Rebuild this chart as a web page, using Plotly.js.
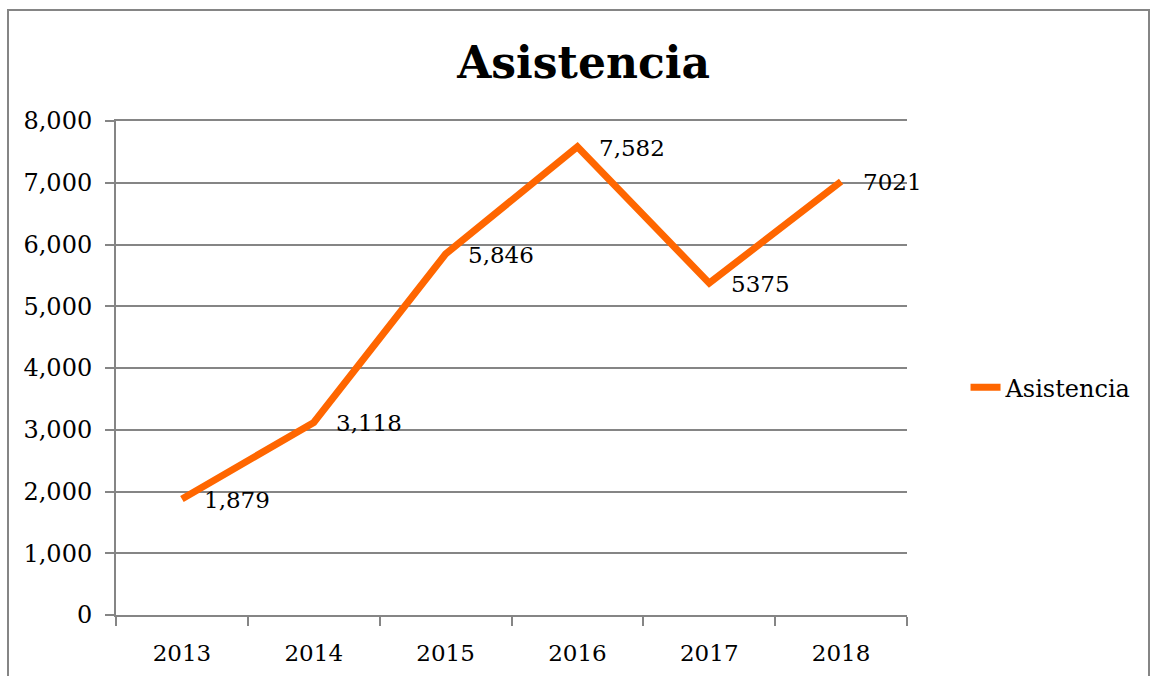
<!DOCTYPE html>
<html>
<head>
<meta charset="utf-8">
<script src="https://cdn.plot.ly/plotly-3.0.1.min.js"></script>
<style>html,body{margin:0;padding:0;background:#fff;}#chart{width:1151px;height:676px;}</style>
</head>
<body>
<div id="chart"></div>
<script>
const years = ['2013', '2014', '2015', '2016', '2017', '2018'];
const asistencia = [1879, 3118, 5846, 7582, 5375, 7021];
const labels = ['1,879', '3,118', '5,846', '7,582', '5375', '7021'];
const yTicks = [0, 1000, 2000, 3000, 4000, 5000, 6000, 7000, 8000];
const yTickText = ['0', '1,000', '2,000', '3,000', '4,000', '5,000', '6,000', '7,000', '8,000'];

const FONT = 'DejaVu Serif, serif';
const GRAY = '#858585';

const trace = {
  x: years,
  y: asistencia,
  type: 'scatter',
  mode: 'lines',
  name: 'Asistencia',
  line: {color: '#ff6600', width: 7}
};

const annotations = years.map((yr, i) => ({
  x: i, y: asistencia[i], xref: 'x', yref: 'y',
  text: labels[i], showarrow: false,
  xanchor: 'left', yanchor: 'middle',
  xshift: 20, yshift: -1,
  font: {family: FONT, size: 23, color: '#000'}
}));

const layout = {
  width: 1151, height: 676,
  margin: {l: 116, r: 244, t: 121, b: 61},
  paper_bgcolor: '#fff', plot_bgcolor: '#fff',
  font: {family: FONT, size: 23, color: '#000'},
  title: {
    text: '<b>Asistencia</b>',
    font: {family: FONT, size: 44, color: '#000'},
    xref: 'container', yref: 'container',
    x: 0.507, y: 0.908, xanchor: 'center', yanchor: 'middle'
  },
  xaxis: {
    type: 'category',
    range: [-0.5, 5.5],
    tickson: 'boundaries',
    ticks: 'outside', ticklen: 9, tickwidth: 2, tickcolor: GRAY,
    showline: true, linecolor: GRAY, linewidth: 2, mirror: true,
    showgrid: false, zeroline: false,
    tickfont: {family: FONT, size: 23, color: '#000'},
    ticklabelstandoff: 16
  },
  yaxis: {
    range: [0, 8000],
    tickvals: yTicks, ticktext: yTickText,
    ticks: 'outside', ticklen: 9, tickwidth: 2, tickcolor: GRAY,
    showline: true, linecolor: GRAY, linewidth: 2,
    showgrid: true, gridcolor: GRAY, gridwidth: 2,
    zeroline: false,
    tickfont: {family: FONT, size: 24, color: '#000'},
    ticklabelstandoff: 8
  },
  showlegend: true,
  legend: {
    x: 1.074, y: 0.46, xanchor: 'left', yanchor: 'middle',
    font: {family: FONT, size: 24, color: '#000'},
    bgcolor: 'rgba(0,0,0,0)'
  },
  annotations: annotations,
  shapes: [{
    type: 'rect', xref: 'paper', yref: 'paper',
    x0: (8 - 116) / 791, x1: (1149 - 116) / 791,
    y0: (615 - 690) / 494, y1: (615 - 10) / 494,
    line: {color: GRAY, width: 2}, fillcolor: 'rgba(0,0,0,0)', layer: 'below'
  }]
};

Plotly.newPlot('chart', [trace], layout, {displayModeBar: false, staticPlot: true});
</script>
</body>
</html>
